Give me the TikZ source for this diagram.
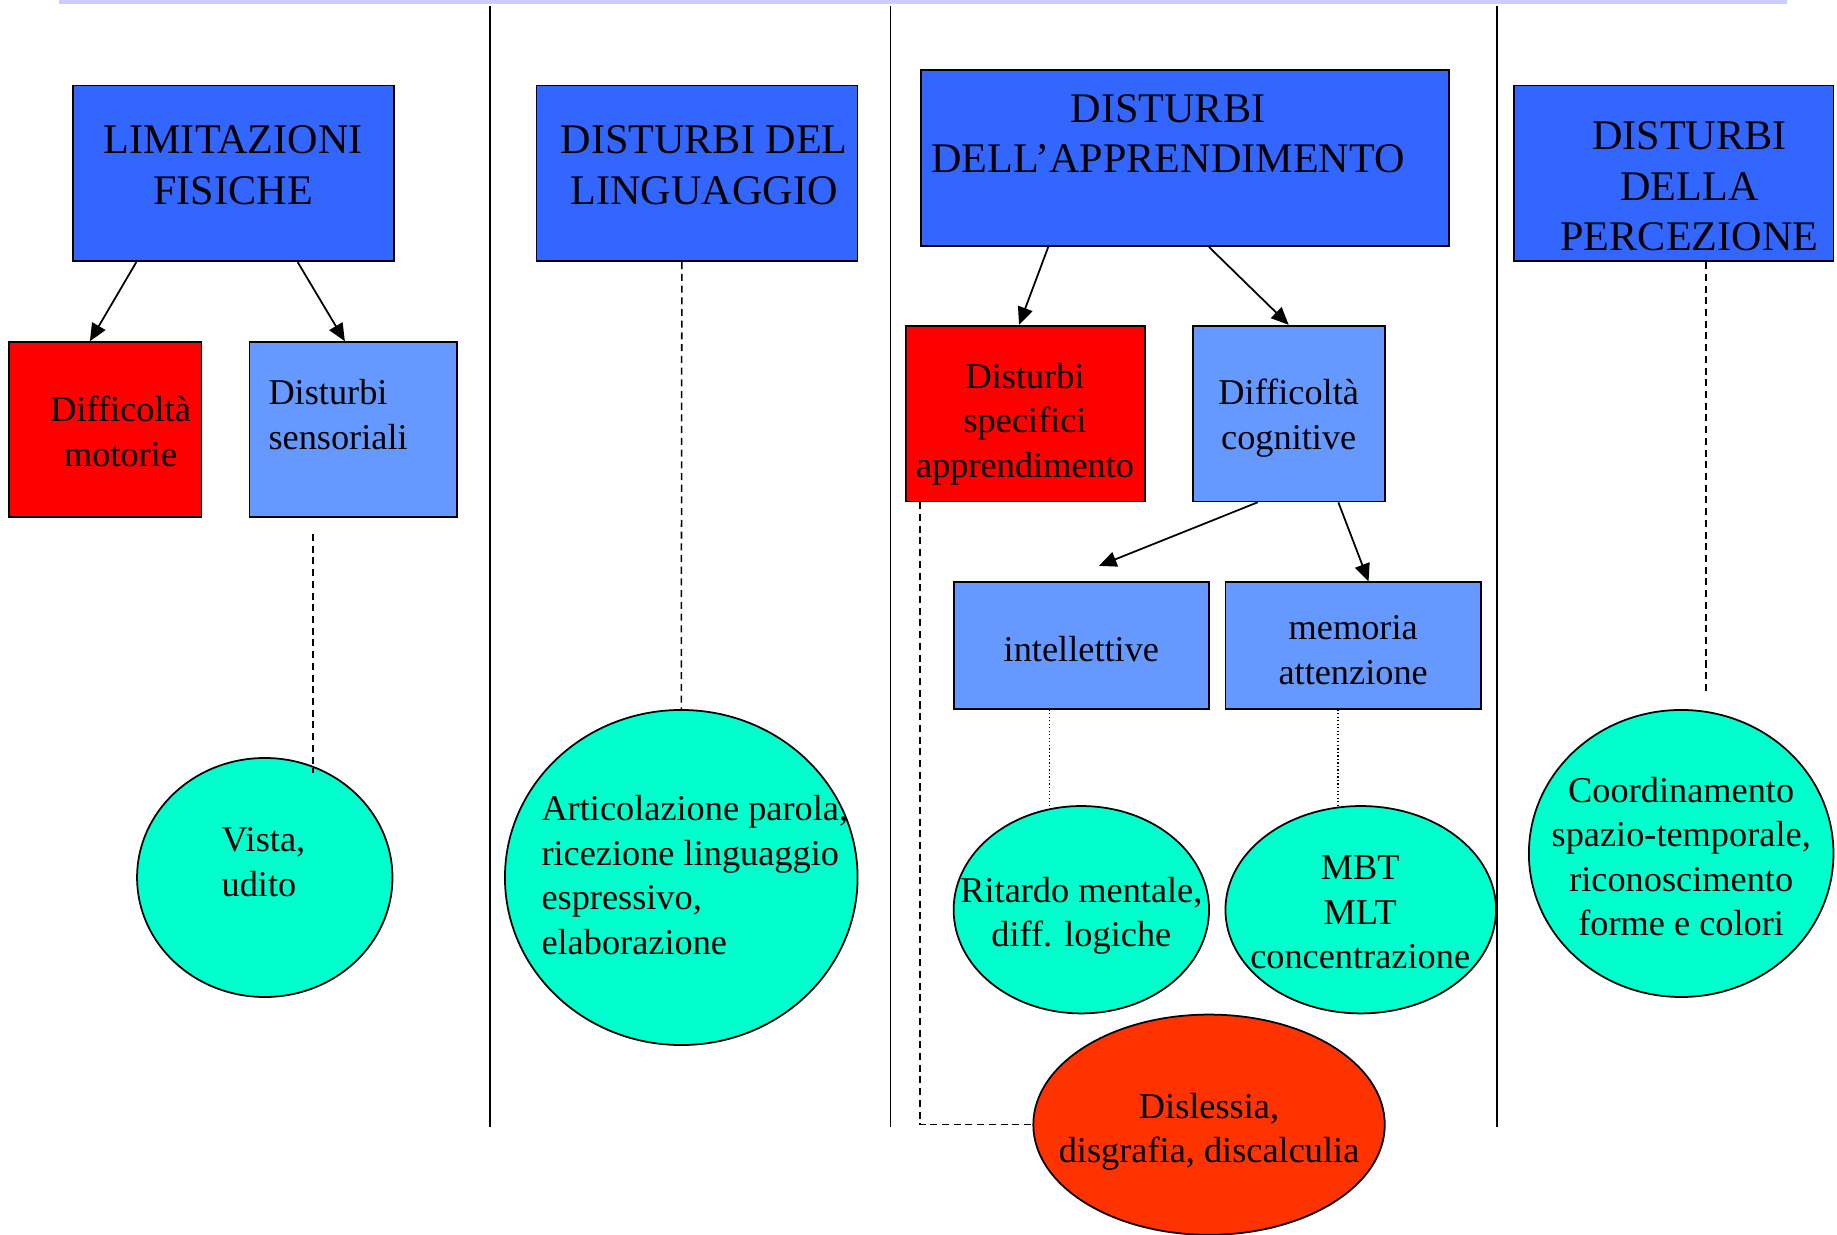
\documentclass[tikz,border=0pt]{standalone}
\usepackage{fontspec}
\setmainfont{Liberation Serif}
\usetikzlibrary{shapes.geometric, arrows.meta, calc}
\definecolor{headblue}{HTML}{3366FF}
\definecolor{subblue}{HTML}{6699FF}
\definecolor{alarmred}{HTML}{FF0000}
\definecolor{bubblecyan}{HTML}{00FFCC}
\definecolor{dyslred}{HTML}{FF3300}
\definecolor{ruleviolet}{HTML}{CCCCFF}
\tikzset{
  bsbox/.style={rectangle, draw, line width=1.5pt, inner sep=0pt},
  bshead/.style={bsbox, fill=headblue},
  bssub/.style={bsbox, fill=subblue},
  bsred/.style={bsbox, fill=alarmred},
  bsbubble/.style={ellipse, draw, line width=1.5pt, inner sep=0pt, fill=bubblecyan},
  bsdysl/.style={bsbubble, fill=dyslred},
  bstext/.style={inner sep=0pt, align=center, font=\fontsize{31}{38}\selectfont},
  bstitle/.style={bstext, font=\fontsize{36}{43}\selectfont},
  bslink/.style={draw, line width=1.5pt, -{Triangle[length=15pt, width=13pt]}},
  bsdash/.style={draw, line width=1.3pt, dash pattern=on 6pt off 4pt},
  bsdot/.style={draw, line width=1pt, dash pattern=on 1pt off 2pt}
}

\begin{document}
\begin{tikzpicture}[x=1pt, y=-1pt]
  \useasboundingbox (0,0) rectangle (1568,1054);
  % rule on top and the column separators
  \draw[ruleviolet, line width=3pt] (50,1.5) -- (1525,1.5);
  \foreach \x in {418, 760, 1278}
    { \draw[line width=1.5pt] (\x,5) -- (\x,962); }
  % name/x/y/width/height/style
  \foreach \n/\x/\y/\w/\h/\s in {%
      limfis/199/148/274/150/bshead, ling/595/148/274/150/bshead,
      apprend/1011.5/135/451/150/bshead, perc/1428.5/148/273/150/bshead,
      motorie/90/366.5/164/149/bsred, sens/301.5/366.5/177/149/bssub,
      spec/875/353/204/150/bsred, cogn/1100/353/164/150/bssub,
      intel/923/551/218/108/bssub, memo/1155/551/218/108/bssub,
      vista/226/749/218/204/bsbubble, artic/581.5/749/301/286/bsbubble,
      ritardo/923/776.5/218/177/bsbubble, mbt/1161.5/776.5/231/177/bsbubble,
      coord/1435/728.5/260/245/bsbubble, dysl/1032/960/300/188/bsdysl}
    { \node[\s, minimum width=\w pt, minimum height=\h pt] (\n) at (\x,\y) {}; }
  % the texts, centred
  \foreach \n/\x/\y/\t in {%
      limfis/199/141/{LIMITAZIONI\\FISICHE},
      ling/601/141/{DISTURBI DEL\\LINGUAGGIO},
      apprend/997/114/{DISTURBI\\DELL’APPRENDIMENTO},
      perc/1442/159/{DISTURBI\\DELLA\\PERCEZIONE}}
    { \node[bstitle] (\n-t) at (\x,\y) {\t}; }
  \foreach \n/\x/\y/\t in {%
      motorie/103/368/{Difficoltà\\motorie},
      spec/875/362/{Disturbi\\specifici\\apprendimento},
      cogn/1100/357/{Difficoltà\\cognitive},
      intel/923/554/{intellettive},
      memo/1155/555/{memoria\\attenzione},
      ritardo/923/781.5/{Ritardo mentale,\\diff. logiche},
      mbt/1161/779/{MBT\\MLT\\concentrazione},
      coord/1435/731/{Coordinamento\\spazio-temporale,\\riconoscimento\\forme e colori},
      dysl/1032/966/{Dislessia,\\disgrafia, discalculia}}
    { \node[bstext] (\n-t) at (\x,\y) {\t}; }
  % the texts, flush left
  \foreach \n/\x/\y/\t in {%
      sens/229/354/{Disturbi\\sensoriali},
      vista/189/736/{Vista,\\udito},
      artic/462/747/{Articolazione parola,\\ricezione linguaggio\\espressivo,\\elaborazione}}
    { \node[bstext, anchor=west, align=left] (\n-t) at (\x,\y) {\t}; }
  % arrows: parent/child/where they leave/where they land
  \foreach \p/\c/\a/\b in {%
      limfis/motorie/0.20/0.42, limfis/sens/0.70/0.46,
      apprend/spec/0.242/0.475, apprend/cogn/0.545/0.50,
      cogn/memo/0.756/0.56}
    { \draw[bslink] ($(\p.south west)!\a!(\p.south east)$)
        -- ($(\c.north west)!\b!(\c.north east)$); }
  \coordinate (intel-tip) at (938,483);
  \draw[bslink] ($(cogn.south west)!0.34!(cogn.south east)$) -- (intel-tip);
  % dashed and dotted leads
  \draw[bsdash] ($(sens.south)+(-34.5,14)$) -- ($(vista.center)+(41,-89)$);
  \draw[bsdash] ($(ling.south)+(-13,0)$) -- (artic.north);
  \coordinate (perc-end) at (1456,590);
  \draw[bsdash] ($(perc.south)+(27.5,0)$) -- (perc-end);
  \draw[bsdash] ($(spec.south west)+(13,0)$) |- (dysl.west);
  \draw[bsdot] ($(intel.south)+(-27,0)$) -- ++(0,83);
  \draw[bsdot] ($(memo.south)+(-13,0)$) -- ++(0,83);
\end{tikzpicture}
\end{document}
